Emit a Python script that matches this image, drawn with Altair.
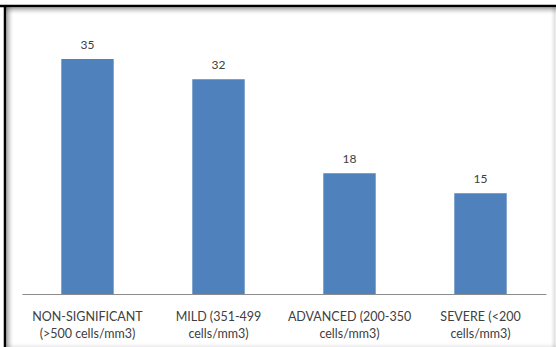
import altair as alt
import pandas as pd

# CD4 count categories (two-line axis labels) and the count in each group
line1 = ["NON-SIGNIFICANT", "MILD (351-499", "ADVANCED (200-350", "SEVERE (<200"]
line2 = ["(>500 cells/mm3)", "cells/mm3)", "cells/mm3)", "cells/mm3)"]
counts = [35, 32, 18, 15]

categories = [a + "\n" + b for a, b in zip(line1, line2)]
df = pd.DataFrame({"category": categories, "count": counts})

FONT = "Lato"
BAR = "#4F81BD"
TEXT = "#404040"

x_enc = alt.X(
    "category:N",
    sort=categories,
    scale=alt.Scale(paddingInner=0.6, paddingOuter=0.3),
    axis=alt.Axis(
        title=None,
        labelAngle=0,
        labelExpr="split(datum.label, '\\n')",
        labelFont=FONT,
        labelFontSize=12.5,
        labelColor=TEXT,
        labelLineHeight=17,
        labelPadding=16,
        labelBaseline="top",
        ticks=False,
        domainColor="#8C8C8C",
        domainWidth=1,
        grid=False,
    ),
)
y_enc = alt.Y(
    "count:Q",
    scale=alt.Scale(domain=[0, 43.8], nice=False, zero=True),
    axis=None,
)

bars = alt.Chart(df).mark_bar(color=BAR).encode(x=x_enc, y=y_enc)
values = alt.Chart(df).mark_text(
    font=FONT, fontSize=12, color=TEXT, baseline="alphabetic", dy=-10
).encode(x=x_enc, y=y_enc, text="count:Q")


def rule(x, x2, y, y2, color, width, opacity=1.0):
    return alt.Chart(alt.Data(values=[{}])).mark_rule(
        color=color, strokeWidth=width, opacity=opacity
    ).encode(x=alt.value(x), x2=alt.value(x2), y=alt.value(y), y2=alt.value(y2))


# frame: dark top and left edges with a soft inner shadow
frame = []
for i, op in enumerate([0.55, 0.4, 0.28, 0.18, 0.1, 0.05, 0.02]):
    frame.append(rule(-18, 534, 8 + i, 8 + i, "#555555", 1, op))
    frame.append(rule(-15 + i, -15 + i, 7, 347, "#555555", 1, op))
for i, op in enumerate([0.04, 0.08, 0.14, 0.2]):
    frame.append(rule(530 + i, 530 + i, 7, 347, "#555555", 1, op))
    frame.append(rule(-18, 534, 344 + i, 344 + i, "#555555", 1, op * 0.6))
frame.append(rule(-22, 534, 6, 6, "#000000", 2.5))
frame.append(rule(-17, -17, 5, 347, "#000000", 2.5))

chart = alt.layer(*frame, bars, values).properties(
    width=524,
    height=294,
    padding={"left": 22, "top": 0, "right": 10, "bottom": 53},
    autosize=alt.AutoSizeParams(type="none"),
    background="white",
).configure_view(stroke=None)

chart.save("out.html", embed_options={"renderer": "svg", "actions": False})
